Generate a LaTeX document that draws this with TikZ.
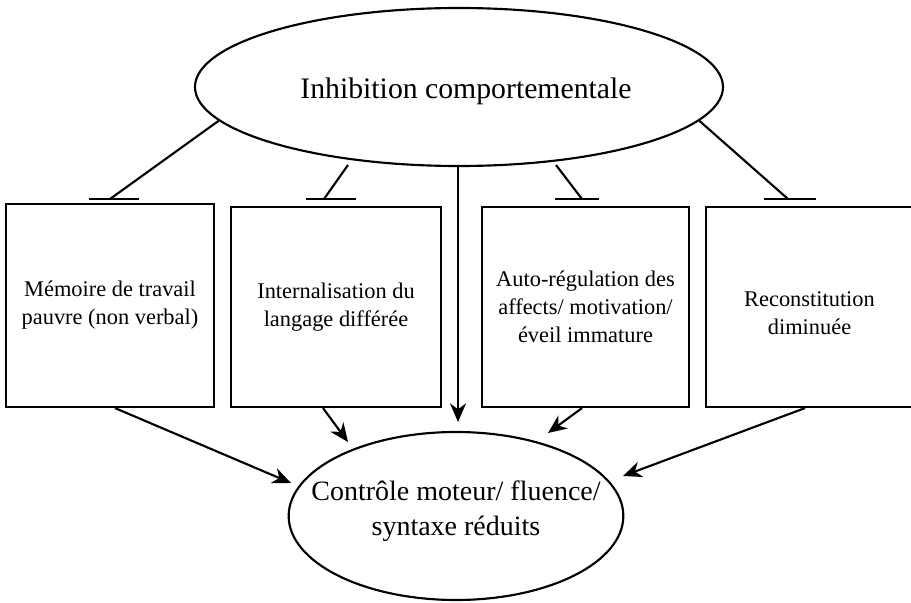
\documentclass[tikz,border=0pt]{standalone}
\usepackage{fontspec}
\setmainfont{Liberation Serif}
\usetikzlibrary{shapes.geometric,arrows.meta}
\begin{document}
\begin{tikzpicture}[x=0.75pt,y=-0.75pt,
  ln/.style={line width=1.6pt},
  arr/.style={ln,-{Stealth[length=14pt,width=12pt,inset=4.5pt]}},
  box/.style={draw,line width=1.6pt,align=center,inner sep=0pt,
    font=\fontsize{16.8}{21}\selectfont},
  ell/.style={draw,ellipse,line width=1.6pt,inner sep=0pt}]
\useasboundingbox (0,0) rectangle (911,603);

% ellipses
\node[ell,minimum width=396pt,minimum height=118.5pt] (top) at (459,87) {};
\node[font=\fontsize{22.3}{26}\selectfont] (toptxt) at (466,91) {Inhibition comportementale};
\node[ell,minimum width=251pt,minimum height=126pt] (bot) at (456,516) {};
\node[align=center,font=\fontsize{21}{26.25}\selectfont] (bottxt) at (456,511)
  {Contrôle moteur/ fluence/\\syntaxe réduits};

% boxes
\node[box,minimum width=156pt,minimum height=152.25pt] (b1) at (110,305.5)
  {Mémoire de travail\\pauvre (non verbal)};
\node[box,minimum width=157.5pt,minimum height=150pt] (b2) at (336,307)
  {Internalisation du\\langage différée};
\node[box,minimum width=155.25pt,minimum height=150pt] (b3) at (585.5,307)
  {Auto-régulation des\\affects/ motivation/\\éveil immature};
\node[box,minimum width=155.25pt,minimum height=150pt] (b4) at (809.5,307) {};
\node[align=center,font=\fontsize{16.8}{21}\selectfont] (b4txt) at (809.5,313)
  {Reconstitution\\diminuée};

% inhibition lines with bars
\coordinate (s2) at (348,165);
\coordinate (s3) at (556,165);
\coordinate (t1) at (110,199);
\coordinate (t2) at (324,199);
\coordinate (t3) at (582,199);
\coordinate (t4) at (788,199);
\draw[ln] (top.188.5) -- (t1);
\draw[ln] (s2) -- (t2);
\draw[ln] (s3) -- (t3);
\draw[ln] (top.-8.6) -- (t4);
\draw[ln] (89,199) -- (139,199);
\draw[ln] (306,199) -- (356,199);
\draw[ln] (555,199) -- (599,199);
\draw[ln] (764,199) -- (816,199);

% vertical arrow
\coordinate (v) at (458,422);
\draw[arr] (top.south -| v) -- (v);

% arrows to bottom ellipse
\coordinate (e1) at (291,483);
\coordinate (e2) at (348,442);
\coordinate (e3) at (548,433);
\coordinate (e4) at (623,476);
\draw[arr] (b1.south -| 115,0) -- (e1);
\draw[arr] (b2.south -| 323,0) -- (e2);
\draw[arr] (b3.south -| 582,0) -- (e3);
\draw[arr] (b4.south -| 805,0) -- (e4);
\end{tikzpicture}
\end{document}
